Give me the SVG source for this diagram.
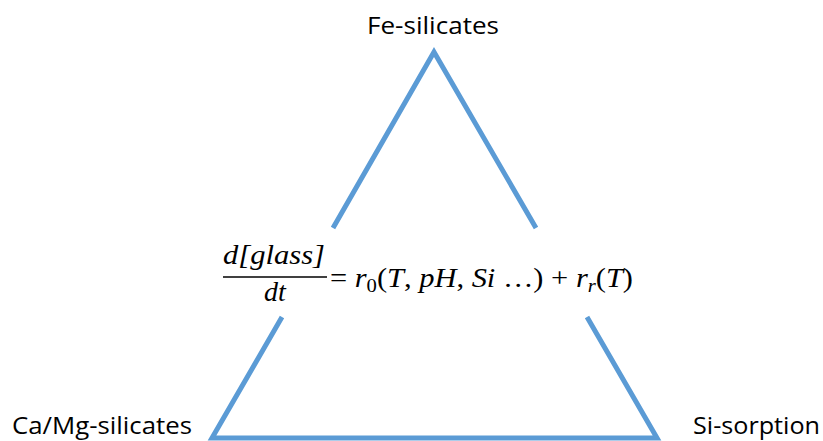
<svg xmlns="http://www.w3.org/2000/svg" width="823" height="441" viewBox="0 0 823 441">
<style>
.lbl{font-family:"Open Sans","Liberation Sans",sans-serif;font-size:24px;fill:#000}
.tri{stroke:#5b9bd5;stroke-width:5;fill:none;stroke-linecap:butt;stroke-linejoin:miter}
.m{font-family:"Liberation Serif","DejaVu Serif",serif;font-size:28px;fill:#000}
.i{font-style:italic}
</style>
<rect width="823" height="441" fill="#fff"/>
<g id="connectors">
<path class="tri" d="M333,228 L434,52 L536,228"/>
<path class="tri" d="M282,317 L212,438 L657,438 L587,317"/>
</g>
<g id="fe"><text class="lbl" x="433" y="34" text-anchor="middle" textLength="132" lengthAdjust="spacingAndGlyphs">Fe-silicates</text></g>
<g id="camg"><text class="lbl" x="12" y="434" textLength="180" lengthAdjust="spacingAndGlyphs">Ca/Mg-silicates</text></g>
<g id="si"><text class="lbl" x="693" y="434" textLength="127" lengthAdjust="spacingAndGlyphs">Si-sorption</text></g>
<g id="equation">
<text class="m i" x="274" y="264" text-anchor="middle" textLength="102" lengthAdjust="spacingAndGlyphs">d[glass]</text>
<line x1="223" y1="277" x2="327" y2="277" stroke="#000" stroke-width="1.6"/>
<text class="m i" x="275" y="301" text-anchor="middle">dt</text>
<text class="m" x="330" y="287" textLength="303" lengthAdjust="spacingAndGlyphs">= <tspan class="i">r</tspan><tspan font-size="19" dy="5">0</tspan><tspan dy="-5">(</tspan><tspan class="i">T</tspan>, <tspan class="i">pH</tspan>, <tspan class="i">Si</tspan> …) +  <tspan class="i">r</tspan><tspan class="i" font-size="19" dy="5">r</tspan><tspan dy="-5">(</tspan><tspan class="i">T</tspan>)</text>
</g>
</svg>
